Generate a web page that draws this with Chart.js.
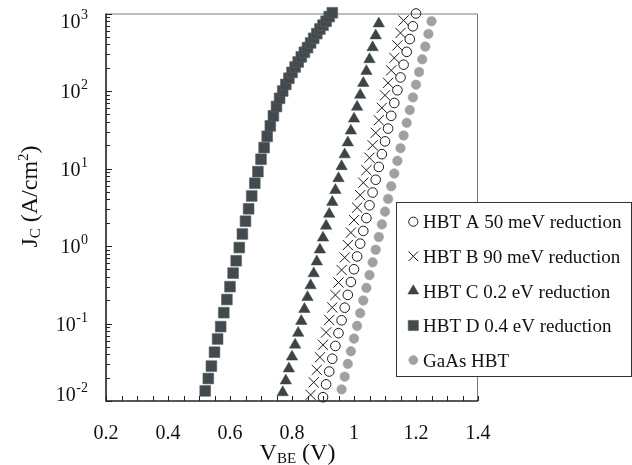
<!DOCTYPE html>
<html>
<head>
<meta charset="utf-8">
<script src="https://cdn.jsdelivr.net/npm/chart.js@4.4.1/dist/chart.umd.min.js"></script>
<style>
html,body{margin:0;padding:0;background:#ffffff;}
#wrap{width:632px;height:465px;position:relative;}
</style>
</head>
<body>
<div id="wrap"><canvas id="c" width="632" height="465"></canvas></div>
<script>
// ---------------- data ----------------
// HBT A 50 meV reduction (open circles)
const vA = [0.90,0.91,0.92,0.93,0.94,0.95,0.96,0.97,0.98,0.99,1.00,1.01,1.02,1.03,1.04,1.05,1.06,1.07,1.08,1.09,1.10,1.11,1.12,1.13,1.14,1.15,1.16,1.17,1.18,1.19,1.20];
const jA = [0.0112,0.0164,0.0240,0.0351,0.0513,0.0750,0.110,0.160,0.234,0.343,0.501,0.733,1.072,1.567,2.291,3.350,4.898,7.161,10.47,15.31,22.39,32.73,47.86,69.98,102.3,149.6,218.8,319.9,467.7,683.9,1000];
// HBT B 90 meV reduction (crosses)
const vB = [0.86,0.87,0.88,0.89,0.90,0.91,0.92,0.93,0.94,0.95,0.96,0.97,0.98,0.99,1.00,1.01,1.02,1.03,1.04,1.05,1.06,1.07,1.08,1.09,1.10,1.11,1.12,1.13,1.14,1.15,1.16];
const jB = [0.0120,0.0174,0.0252,0.0366,0.0530,0.0767,0.111,0.161,0.233,0.338,0.490,0.710,1.028,1.489,2.158,3.126,4.529,6.561,9.506,13.77,19.95,28.91,41.88,60.67,87.90,127.4,184.5,267.3,387.3,561.0,812.8];
// HBT C 0.2 eV reduction (triangles)
const vC = [0.77,0.78,0.79,0.80,0.81,0.82,0.83,0.84,0.85,0.86,0.87,0.88,0.89,0.90,0.91,0.92,0.93,0.94,0.95,0.96,0.97,0.98,0.99,1.00,1.01,1.02,1.03,1.04,1.05,1.06,1.07,1.08];
const jC = [0.0129,0.0183,0.0261,0.0372,0.0530,0.0753,0.107,0.153,0.218,0.310,0.442,0.628,0.895,1.276,1.816,2.588,3.681,5.248,7.464,10.64,15.14,21.58,30.69,43.75,62.23,88.72,126.2,179.9,255.9,364.8,518.8,741.3];
// HBT D 0.4 eV reduction (squares)
const vD = [0.52,0.53,0.54,0.55,0.56,0.57,0.58,0.59,0.60,0.61,0.62,0.63,0.64,0.65,0.66,0.67,0.68,0.69,0.70,0.71,0.72,0.73,0.74,0.75,0.76,0.77,0.78,0.79,0.80,0.81,0.82,0.83,0.84,0.85,0.86,0.87,0.88,0.89,0.90,0.91,0.92,0.93];
const jD = [0.0135,0.0195,0.0282,0.0427,0.0631,0.0912,0.138,0.204,0.299,0.447,0.646,0.955,1.429,2.089,3.020,4.416,6.457,9.120,13.18,18.62,26.00,35.48,47.86,63.10,80.35,100.0,121.6,146.2,173.8,204.2,237.1,275.4,316.2,363.1,416.9,478.6,549.5,631.0,707.9,794.3,912.0,1023];
// GaAs HBT (grey dots)
const vG = [0.96,0.97,0.98,0.99,1.00,1.01,1.02,1.03,1.04,1.05,1.06,1.07,1.08,1.09,1.10,1.11,1.12,1.13,1.14,1.15,1.16,1.17,1.18,1.19,1.20,1.21,1.22,1.23,1.24,1.25];
const jG = [0.0141,0.0206,0.0301,0.0438,0.0638,0.0931,0.136,0.198,0.288,0.421,0.614,0.895,1.306,1.901,2.773,4.046,5.902,8.610,12.53,18.28,26.67,38.90,56.75,82.60,120.5,175.8,256.4,374.1,544.5,794.3];

const seriesLabels = ['HBT A 50 meV reduction','HBT B 90 meV reduction','HBT C 0.2 eV reduction','HBT D 0.4 eV reduction','GaAs HBT'];

const xTickValues = [0.2,0.4,0.6,0.8,1.0,1.2,1.4];
const xTickLabels = ['0.2','0.4','0.6','0.8','1','1.2','1.4'];
const yTickValues = [0.01,0.1,1,10,100,1000];
const yTickBase = '10';
const yTickExponents = ['-2','-1','0','1','2','3'];

const xTitleMain = 'V', xTitleSub = 'BE', xTitleTail = ' (V)';
const yTitleMain = 'J', yTitleSub = 'C', yTitleMid = ' (A/cm', yTitleSup = '2', yTitleTail = ')';

// ---------------- chart ----------------
const SERIF = '"Liberation Serif","Times New Roman",serif';
function pts(vs, js){ return vs.map((v,i)=>({x:v, y:js[i]})); }

const styles = [
  {pointStyle:'circle',   pointRadius:4.8, pointBackgroundColor:'rgba(255,255,255,0)', pointBorderColor:'#1a1a1a', pointBorderWidth:1},
  {pointStyle:'crossRot', pointRadius:7.2, pointBackgroundColor:'#1a1a1a', pointBorderColor:'#1a1a1a', pointBorderWidth:1},
  {pointStyle:'triangle', pointRadius:6.6, pointBackgroundColor:'#3d4447', pointBorderColor:'#3d4447', pointBorderWidth:0.5},
  {pointStyle:'rect',     pointRadius:7.6, pointBackgroundColor:'#434a4d', pointBorderColor:'#5b6164', pointBorderWidth:0.6},
  {pointStyle:'circle',   pointRadius:4.8, pointBackgroundColor:'#9ea1a4', pointBorderColor:'#9ea1a4', pointBorderWidth:0.5}
];
const dataPairs = [[vA,jA],[vB,jB],[vC,jC],[vD,jD],[vG,jG]];
const datasets = dataPairs.map((p,i)=>Object.assign({
  label: seriesLabels[i],
  data: pts(p[0], p[1]),
  showLine:false,
  clip:false
}, styles[i]));

const framePlugin = {
  id:'frame',
  beforeDatasetsDraw(chart){
    const {ctx, chartArea:a, scales} = chart;
    const x = scales.x, y = scales.y;
    ctx.save();
    // top and right border (thin grey)
    ctx.strokeStyle = '#7a7a7a';
    ctx.lineWidth = 1;
    ctx.beginPath();
    ctx.moveTo(a.left, a.top + 0.5);
    ctx.lineTo(a.right - 0.5, a.top + 0.5);
    ctx.lineTo(a.right - 0.5, a.bottom);
    ctx.stroke();
    // x ticks (inside, every 0.05)
    ctx.strokeStyle = '#222';
    ctx.lineWidth = 1;
    ctx.beginPath();
    for (let k = 0; k <= 24; k++) {
      const v = 0.2 + k * 0.05;
      const px = Math.round(x.getPixelForValue(v)) + 0.5;
      ctx.moveTo(px, a.bottom);
      ctx.lineTo(px, a.bottom - 5);
    }
    // y ticks (inside, log minor)
    for (let e = -2; e <= 3; e++) {
      for (let m = 1; m <= 9; m++) {
        const val = m * Math.pow(10, e);
        if (val > 1000 * 1.0001) break;
        const py = Math.round(y.getPixelForValue(val)) + 0.5;
        ctx.moveTo(a.left, py);
        ctx.lineTo(a.left + (m === 1 ? 6 : 4), py);
      }
    }
    ctx.stroke();
    // left and bottom axis lines
    ctx.strokeStyle = '#222';
    ctx.lineWidth = 1.6;
    ctx.beginPath();
    ctx.moveTo(a.left, a.top);
    ctx.lineTo(a.left, a.bottom);
    ctx.lineTo(a.right, a.bottom);
    ctx.stroke();
    ctx.restore();
  },
  afterDraw(chart){
    const {ctx, chartArea:a, scales} = chart;
    const x = scales.x, y = scales.y;
    ctx.save();
    ctx.fillStyle = '#111';
    // x tick labels
    ctx.font = '20px ' + SERIF;
    ctx.textAlign = 'center';
    ctx.textBaseline = 'alphabetic';
    xTickValues.forEach((v,i)=>{
      ctx.fillText(xTickLabels[i], x.getPixelForValue(v), 438.5);
    });
    // y tick labels with superscript exponents
    const right = 88;
    yTickValues.forEach((v,i)=>{
      let py = y.getPixelForValue(v);
      py = Math.min(Math.max(py, a.top + 7), a.bottom - 7);
      ctx.textAlign = 'left';
      ctx.font = '14px ' + SERIF;
      const ew = ctx.measureText(yTickExponents[i]).width;
      ctx.fillText(yTickExponents[i], right - ew, py - 2);
      ctx.font = '20px ' + SERIF;
      const bw = ctx.measureText(yTickBase).width;
      ctx.fillText(yTickBase, right - ew - bw - 0.5, py + 7);
    });
    // x axis title
    ctx.textAlign = 'left';
    ctx.font = '24px ' + SERIF;
    const w1 = ctx.measureText(xTitleMain).width;
    const w3 = ctx.measureText(xTitleTail).width;
    ctx.font = '15px ' + SERIF;
    const w2 = ctx.measureText(xTitleSub).width;
    let sx = 297.5 - (w1 + w2 + w3) / 2;
    ctx.font = '24px ' + SERIF;
    ctx.fillText(xTitleMain, sx, 460);
    ctx.font = '15px ' + SERIF;
    ctx.fillText(xTitleSub, sx + w1, 463);
    ctx.font = '24px ' + SERIF;
    ctx.fillText(xTitleTail, sx + w1 + w2, 460);
    // y axis title (rotated)
    ctx.save();
    ctx.translate(37, 196.5);
    ctx.rotate(-Math.PI / 2);
    ctx.font = '24px ' + SERIF;
    const t1 = ctx.measureText(yTitleMain).width;
    const t3 = ctx.measureText(yTitleMid).width;
    const t5 = ctx.measureText(yTitleTail).width;
    ctx.font = '15px ' + SERIF;
    const t2 = ctx.measureText(yTitleSub).width;
    const t4 = ctx.measureText(yTitleSup).width;
    let tx = -(t1 + t2 + t3 + t4 + t5) / 2;
    ctx.font = '24px ' + SERIF;
    ctx.fillText(yTitleMain, tx, 0); tx += t1;
    ctx.font = '15px ' + SERIF;
    ctx.fillText(yTitleSub, tx, 3); tx += t2;
    ctx.font = '24px ' + SERIF;
    ctx.fillText(yTitleMid, tx, 0); tx += t3;
    ctx.font = '15px ' + SERIF;
    ctx.fillText(yTitleSup, tx, -9); tx += t4;
    ctx.font = '24px ' + SERIF;
    ctx.fillText(yTitleTail, tx, 0);
    ctx.restore();

    // legend box
    const lx = 396.5, ly = 202.5, lw = 235, lh = 174;
    ctx.fillStyle = '#ffffff';
    ctx.fillRect(lx, ly, lw, lh);
    ctx.strokeStyle = '#333';
    ctx.lineWidth = 1;
    ctx.strokeRect(lx, ly, lw, lh);
    chart.data.datasets.forEach((ds, i)=>{
      const cy = 221.7 + i * 34.6;
      ctx.save();
      ctx.fillStyle = ds.pointBackgroundColor;
      ctx.strokeStyle = ds.pointBorderColor;
      ctx.lineWidth = ds.pointBorderWidth;
      Chart.helpers.drawPoint(ctx, {pointStyle: ds.pointStyle, radius: ds.pointRadius * 0.95, rotation: 0, borderWidth: ds.pointBorderWidth}, 413.3, cy);
      ctx.restore();
      ctx.fillStyle = '#111';
      ctx.font = '19px ' + SERIF;
      ctx.textAlign = 'left';
      ctx.fillText(ds.label, 423, cy + 6.6);
    });
    ctx.restore();
  }
};

new Chart(document.getElementById('c'), {
  type: 'scatter',
  data: { datasets },
  options: {
    responsive: false,
    devicePixelRatio: 1,
    animation: false,
    layout: { padding: { left: 106, right: 154, top: 13.5, bottom: 64 } },
    plugins: { legend: { display: false }, tooltip: { enabled: false } },
    scales: {
      x: { type: 'linear', min: 0.2, max: 1.4, display: false },
      y: { type: 'logarithmic', min: 0.01, max: 1000, display: false }
    }
  },
  plugins: [framePlugin]
});
</script>
</body>
</html>
